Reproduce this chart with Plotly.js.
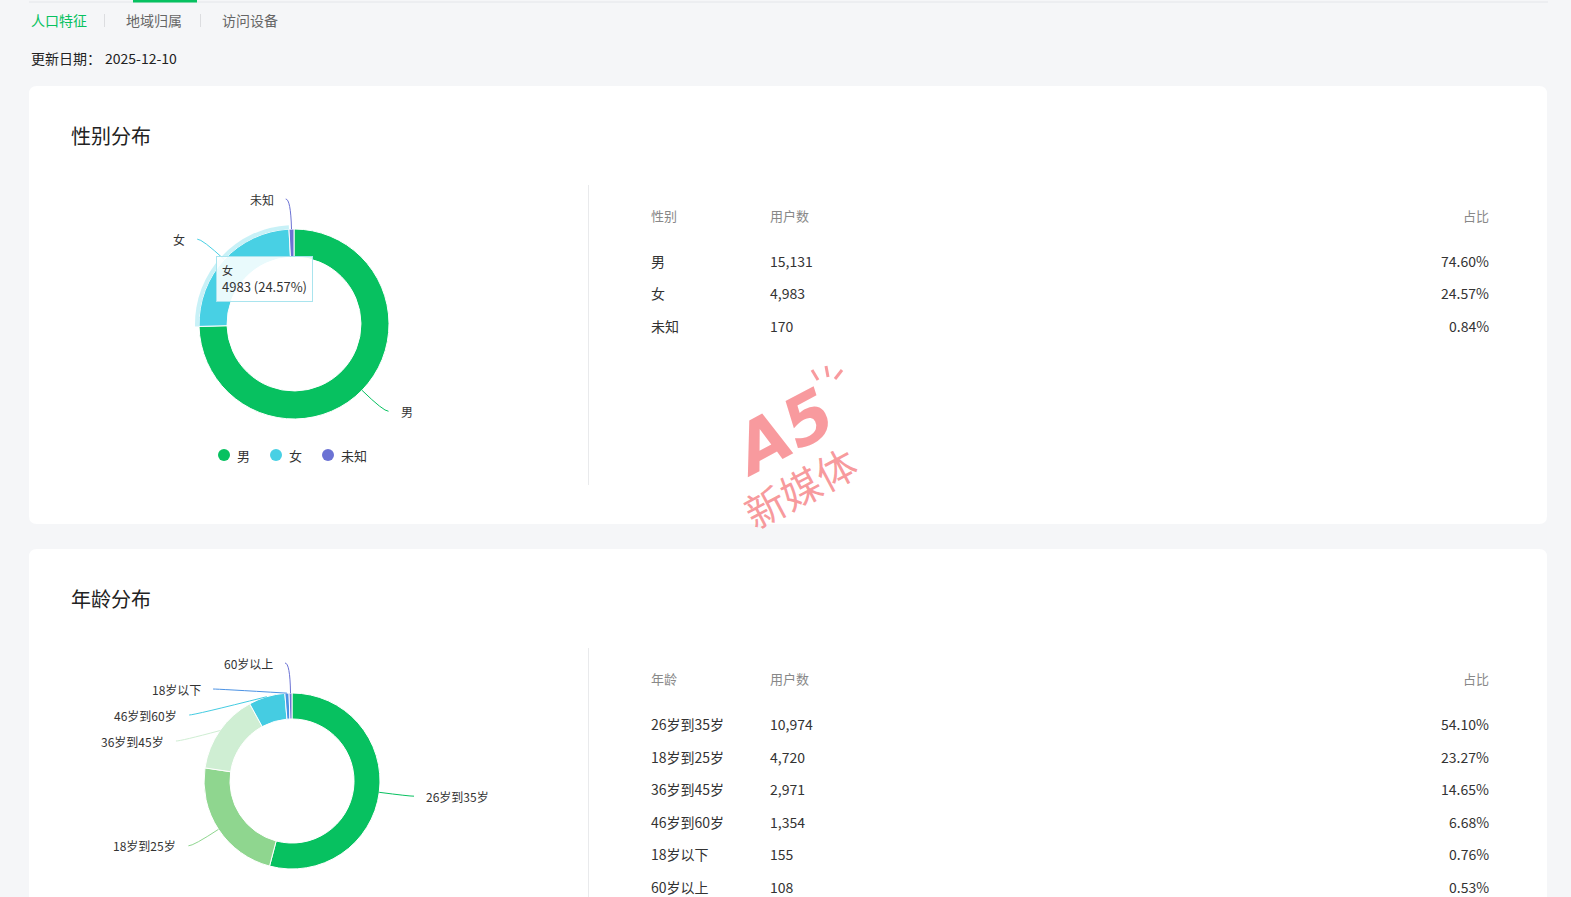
<!DOCTYPE html>
<html><head><meta charset="utf-8">
<script src="https://cdn.plot.ly/plotly-3.0.1.min.js"></script>
<style>html,body{margin:0;padding:0;background:#f5f6f8;overflow:hidden}#chart{width:1571px;height:897px}</style>
</head><body><div id="chart"></div>
<script>
// ---------------- data ----------------
const tabLabels = ['人口特征', '地域归属', '访问设备'];
const updateLabel = '更新日期：';
const updateDate = '2025-12-10';

const genderTitle = '性别分布';
const genderHeaders = ['性别', '用户数', '占比'];
const genderLabels = ['男', '女', '未知'];
const genderValues = [15131, 4983, 170];
const genderPct = ['74.60%', '24.57%', '0.84%'];
const genderColors = ['#07c160', '#48d0e4', '#6b72d4'];

const ageTitle = '年龄分布';
const ageHeaders = ['年龄', '用户数', '占比'];
const ageLabels = ['26岁到35岁', '18岁到25岁', '36岁到45岁', '46岁到60岁', '18岁以下', '60岁以上'];
const ageValues = [10974, 4720, 2971, 1354, 155, 108];
const agePct = ['54.10%', '23.27%', '14.65%', '6.68%', '0.76%', '0.53%'];
const ageColors = ['#07c160', '#8fd68f', '#cfeed3', '#45cce2', '#4b92e4', '#6b72d4'];

const hoverIndex = 1; // tooltip shown for 女

// ---------------- helpers ----------------
const W = 1571, H = 897;
const FONT = '"Noto Sans CJK SC", "Noto Sans", sans-serif';
const X = px => px / W;
const Y = py => 1 - py / H;
const fmt = n => n.toLocaleString('en-US');

const shapes = [];
const annotations = [];

function text(t, x, y, opts) {
  opts = opts || {};
  const anchor = opts.anchor || 'left';
  const dx = opts.dx != null ? opts.dx : (anchor === 'left' ? -1 : 0);
  annotations.push({
    text: t, x: X(x + dx), y: Y(y), xref: 'paper', yref: 'paper', showarrow: false,
    xanchor: anchor, yanchor: opts.yanchor || 'middle',
    font: {family: opts.family || FONT, size: opts.size || 14, color: opts.color || '#333'},
    textangle: opts.angle || 0
  });
}
function line(x0, y0, x1, y1, color, width) {
  shapes.push({type: 'line', xref: 'paper', yref: 'paper', x0: X(x0), y0: Y(y0), x1: X(x1), y1: Y(y1),
    line: {color: color, width: width || 1}, layer: 'below'});
}
function roundRect(x0, y0, x1, y1, r, fill) {
  const p = (x, y) => X(x) + ',' + Y(y);
  const path = 'M' + p(x0 + r, y0) + ' L' + p(x1 - r, y0) + ' Q' + p(x1, y0) + ' ' + p(x1, y0 + r) +
    ' L' + p(x1, y1 - r) + ' Q' + p(x1, y1) + ' ' + p(x1 - r, y1) +
    ' L' + p(x0 + r, y1) + ' Q' + p(x0, y1) + ' ' + p(x0, y1 - r) +
    ' L' + p(x0, y0 + r) + ' Q' + p(x0, y0) + ' ' + p(x0 + r, y0) + ' Z';
  shapes.push({type: 'path', xref: 'paper', yref: 'paper', path: path, fillcolor: fill, line: {width: 0}, layer: 'below'});
}

function pieTrace(values, labels, colors, cx, cy, R, holeFrac) {
  return {
    type: 'pie', values: values, labels: labels, sort: false, direction: 'clockwise', rotation: 0,
    hole: holeFrac, textinfo: 'none', hoverinfo: 'none', showlegend: false,
    marker: {colors: colors, line: {color: '#ffffff', width: 1}},
    domain: {x: [X(cx - R), X(cx + R)], y: [Y(cy + R), Y(cy - R)]}
  };
}

// ECharts-like outside labels with leader lines, derived from the values
function pieLabels(values, labels, colors, cx, cy, R, len1, len2, gap, lineH) {
  const total = values.reduce((a, b) => a + b, 0);
  let acc = 0;
  const items = values.map((v, i) => {
    const frac = v / total;
    const mid = (acc + frac / 2) * 2 * Math.PI;
    acc += frac;
    const dx = Math.sin(mid), dy = -Math.cos(mid);
    const r = R + len1;
    return {i: i, side: dx >= 0 ? 1 : -1, p0: [cx + R * dx, cy + R * dy], y: cy + r * dy, r: r};
  });
  [1, -1].forEach(side => {
    const arr = items.filter(it => it.side === side).sort((a, b) => a.y - b.y);
    for (let k = 1; k < arr.length; k++) arr[k].y = Math.max(arr[k].y, arr[k - 1].y + lineH);
  });
  items.forEach(it => {
    const d = it.y - cy;
    const ex = Math.abs(d) < it.r ? Math.sqrt(it.r * it.r - d * d) : 0;
    const elbow = [cx + it.side * ex, it.y];
    const end = [cx + it.side * (ex + len2), it.y];
    const p = (q) => X(q[0]) + ',' + Y(q[1]);
    shapes.push({type: 'path', xref: 'paper', yref: 'paper',
      path: 'M' + p(it.p0) + ' Q' + p(elbow) + ' ' + p(end),
      line: {color: colors[it.i], width: 1}});
    text(labels[it.i], end[0] + it.side * gap, it.y, {anchor: it.side > 0 ? 'left' : 'right', size: 12, color: '#333', dx: 0});
  });
}

// ---------------- page chrome ----------------
line(29, 2, 1548, 2, '#e4e6ea', 1);
line(133, 1, 197, 1, '#07c160', 3);
text(tabLabels[0], 30, 20, {color: '#07c160', size: 14});
line(104.5, 14, 104.5, 27, '#dcdde0', 1);
text(tabLabels[1], 125, 20, {color: '#666', size: 14});
line(200.5, 14, 200.5, 27, '#dcdde0', 1);
text(tabLabels[2], 221, 20, {color: '#666', size: 14});
text(updateLabel, 30, 58, {color: '#222', size: 14});
text(updateDate, 104, 58, {color: '#222', size: 14});

roundRect(29, 86, 1547, 524, 8, '#ffffff');
roundRect(29, 549, 1547, 930, 8, '#ffffff');

text(genderTitle, 70, 135, {color: '#222', size: 20});
text(ageTitle, 70, 598, {color: '#222', size: 20});

line(588.5, 185, 588.5, 485, '#e9eaec', 1);
line(588.5, 648, 588.5, 900, '#e9eaec', 1);

// ---------------- tables ----------------
function table(headers, labels, values, pct, headY, rowY0, rowStep) {
  text(headers[0], 650, headY, {color: '#888', size: 13});
  text(headers[1], 769, headY, {color: '#888', size: 13});
  text(headers[2], 1487, headY, {color: '#888', size: 13, anchor: 'right', dx: 4});
  labels.forEach((l, i) => {
    const y = rowY0 + i * rowStep;
    text(l, 650, y, {color: '#333', size: 14});
    text(fmt(values[i]), 769, y, {color: '#333', size: 14});
    text(pct[i], 1487, y, {color: '#333', size: 14, anchor: 'right', dx: 4});
  });
}
table(genderHeaders, genderLabels, genderValues, genderPct, 215, 261, 32.5);
table(ageHeaders, ageLabels, ageValues, agePct, 678, 724, 32.5);

// ---------------- pies ----------------
const G = {cx: 294, cy: 324, R: 95};
const A = {cx: 292, cy: 781, R: 88};
const traces = [];
traces.push(pieTrace(genderValues, genderLabels, genderColors, G.cx, G.cy, G.R, 0.705));
// emphasis halo of the hovered slice
const haloColors = genderColors.map((c, i) => i === hoverIndex ? 'rgba(72,208,228,0.30)' : 'rgba(0,0,0,0)');
const halo = pieTrace(genderValues, genderLabels, haloColors, G.cx, G.cy, G.R + 4, G.R / (G.R + 4));
halo.marker.line.width = 0;
traces.push(halo);
traces.push(pieTrace(ageValues, ageLabels, ageColors, A.cx, A.cy, A.R, 0.705));

pieLabels(genderValues, genderLabels, genderColors, G.cx, G.cy, G.R, 30, 5, 10, 26);
pieLabels(ageValues, ageLabels, ageColors, A.cx, A.cy, A.R, 30, 5, 10, 26);

// legend (gender)
let lx = 218;
genderLabels.forEach((l, i) => {
  shapes.push({type: 'circle', xref: 'paper', yref: 'paper', x0: X(lx), x1: X(lx + 12), y0: Y(461), y1: Y(449),
    fillcolor: genderColors[i], line: {width: 0}});
  text(l, lx + 18, 455, {size: 13, color: '#333'});
  lx += 12 + 5 + 13 * l.length + 22;
});

// tooltip
const gTotal = genderValues.reduce((a, b) => a + b, 0);
annotations.push({
  xref: 'paper', yref: 'paper', x: X(216), y: Y(256), xanchor: 'left', yanchor: 'top', showarrow: false, align: 'left',
  text: '<span style="font-size:11px">' + genderLabels[hoverIndex] + '</span><br>' + genderValues[hoverIndex] + ' (' +
    (genderValues[hoverIndex] / gTotal * 100).toFixed(2) + '%)',
  font: {family: FONT, size: 13, color: '#333'},
  bgcolor: 'rgba(255,255,255,0.88)', bordercolor: '#a9e4ee', borderwidth: 1, borderpad: 5
});

// watermark
const wm = 'rgba(245,115,120,0.72)';
text('<b><i>A5</i></b>', 782, 432, {size: 68, color: wm, anchor: 'center', angle: -28, family: '"DejaVu Sans", sans-serif'});
text('新媒体', 800, 487, {size: 40, color: wm, anchor: 'center', angle: -28});
line(812, 370, 818, 380, wm, 3);
line(826, 366, 828, 377, wm, 3);
line(842, 370, 835, 379, wm, 3);

const layout = {
  width: W, height: H, margin: {l: 0, r: 0, t: 0, b: 0},
  paper_bgcolor: '#f5f6f8', plot_bgcolor: '#f5f6f8',
  showlegend: false, hovermode: false,
  shapes: shapes, annotations: annotations,
  font: {family: FONT}
};
Plotly.newPlot('chart', traces, layout, {displayModeBar: false, staticPlot: true});
</script>
</body></html>
